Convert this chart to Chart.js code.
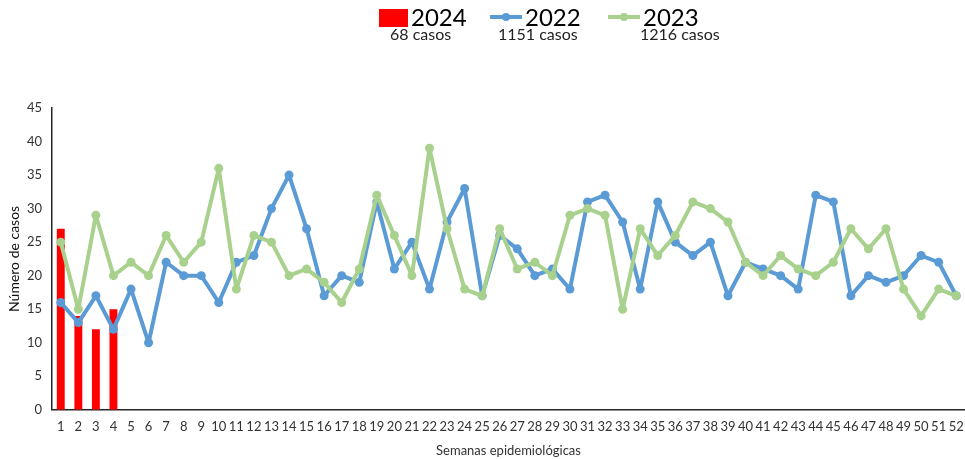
<!DOCTYPE html>
<html>
<head>
<meta charset="utf-8">
<script src="https://cdn.jsdelivr.net/npm/chart.js@4.4.1/dist/chart.umd.min.js"></script>
<style>
  html, body { margin: 0; padding: 0; background: #fff; }
  #wrap { width: 965px; height: 459px; }
</style>
</head>
<body>
<div id="wrap"><canvas id="casosChart"></canvas></div>
<script>
const semanas = [];
for (let i = 1; i <= 52; i++) semanas.push(String(i));

const casos2024 = [27, 14, 12, 15];
const casos2022 = [16, 13, 17, 12, 18, 10, 22, 20, 20, 16, 22, 23, 30, 35, 27, 17, 20, 19, 31, 21,
    25, 18, 28, 33, 17, 26, 24, 20, 21, 18, 31, 32, 28, 18, 31, 25, 23, 25, 17, 22,
    21, 20, 18, 32, 31, 17, 20, 19, 20, 23, 22, 17];
const casos2023 = [25, 15, 29, 20, 22, 20, 26, 22, 25, 36, 18, 26, 25, 20, 21, 19, 16, 21, 32, 26,
    20, 39, 27, 18, 17, 27, 21, 22, 20, 29, 30, 29, 15, 27, 23, 26, 31, 30, 28, 22,
    20, 23, 21, 20, 22, 27, 24, 27, 18, 14, 18, 17];

const rojo = '#FF0000';
const azul = '#5B9BD5';
const verde = '#A9D18E';
const fuente = 'Lato, "Open Sans", sans-serif';

const total = (arr) => arr.reduce((a, b) => a + b, 0);

// leyenda dibujada a mano (titulo grande + total de casos debajo)
const leyenda = {
    id: 'leyenda',
    afterDraw(chart) {
        const c = chart.ctx;
        const items = [
            { tipo: 'bar', color: rojo, label: '2024', sub: total(casos2024) + ' casos', x: 379, subX: 390 },
            { tipo: 'line', color: azul, label: '2022', sub: total(casos2022) + ' casos', x: 490, subX: 498 },
            { tipo: 'line', color: verde, label: '2023', sub: total(casos2023) + ' casos', x: 608, subX: 640 }
        ];
        c.save();
        items.forEach(function (it) {
            if (it.tipo === 'bar') {
                c.fillStyle = it.color;
                c.fillRect(it.x, 9, 29, 18);
            } else {
                c.strokeStyle = it.color;
                c.lineWidth = 4;
                c.beginPath();
                c.moveTo(it.x, 17);
                c.lineTo(it.x + 32, 17);
                c.stroke();
                c.fillStyle = it.color;
                c.beginPath();
                c.arc(it.x + 16, 17, 4, 0, Math.PI * 2);
                c.fill();
            }
            c.fillStyle = '#000';
            c.textBaseline = 'middle';
            c.textAlign = 'left';
            c.font = '24px ' + fuente;
            c.fillText(it.label, it.x + (it.tipo === 'bar' ? 32 : 35), 18);
            c.font = '16px ' + fuente;
            c.fillStyle = '#222';
            c.fillText(it.sub, it.subX, 35);
        });
        c.restore();
    }
};

const ctx = document.getElementById('casosChart').getContext('2d');

const myChart = new Chart(ctx, {
    type: 'bar',
    data: {
        labels: semanas,
        datasets: [{
            type: 'line',
            label: '2022',
            data: casos2022,
            borderColor: azul,
            backgroundColor: azul,
            borderWidth: 4,
            borderJoinStyle: 'round',
            pointRadius: 4.5,
            pointBorderWidth: 0,
            pointHoverRadius: 5,
            tension: 0,
            clip: false,
            order: 1
        }, {
            type: 'line',
            label: '2023',
            data: casos2023,
            borderColor: verde,
            backgroundColor: verde,
            borderWidth: 4,
            borderJoinStyle: 'round',
            pointRadius: 4.5,
            pointBorderWidth: 0,
            pointHoverRadius: 5,
            tension: 0,
            clip: false,
            order: 0
        }, {
            type: 'bar',
            label: '2024',
            data: casos2024,
            backgroundColor: rojo,
            barPercentage: 0.45,
            categoryPercentage: 1,
            order: 2
        }]
    },
    options: {
        responsive: true,
        maintainAspectRatio: false,
        animation: false,
        layout: {
            autoPadding: false,
            padding: { top: 108, right: 0, left: 0, bottom: 0 }
        },
        scales: {
            x: {
                offset: true,
                grid: { display: false, drawTicks: false },
                border: { display: true, color: '#262626', width: 1.5 },
                ticks: {
                    color: '#333',
                    font: { family: fuente, size: 13 },
                    maxRotation: 0,
                    autoSkip: false,
                    padding: 9
                },
                title: {
                    display: true,
                    text: 'Semanas epidemiológicas',
                    color: '#333',
                    font: { family: fuente, size: 13 },
                    padding: { top: 0, bottom: 0 }
                },
                afterFit: function (scale) {
                    scale.paddingRight = 0;
                    scale.paddingLeft = 0;
                }
            },
            y: {
                min: 0,
                max: 45,
                grid: { display: false, drawTicks: false },
                border: { display: true, color: '#262626', width: 1.5 },
                ticks: {
                    stepSize: 5,
                    color: '#333',
                    font: { family: fuente, size: 13 },
                    padding: 10
                },
                title: {
                    display: true,
                    text: 'Número de casos',
                    color: '#111',
                    font: { family: fuente, size: 14 },
                    padding: { top: 6, bottom: 0 }
                },
                afterFit: function (scale) {
                    scale.width = 52;
                }
            }
        },
        plugins: {
            legend: { display: false },
            tooltip: { enabled: true }
        }
    },
    plugins: [leyenda]
});
</script>
</body>
</html>
